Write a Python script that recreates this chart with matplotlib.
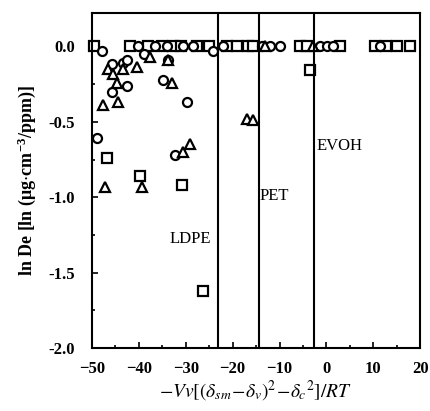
import matplotlib.pyplot as plt
from matplotlib.ticker import MultipleLocator

# squares
sq_x = [-49.6, -41.9, -38.0, -35.0, -32.7, -31.0, -27.5, -25.0, -21.2, -19.0,
        -16.8, -15.6, -5.6, -4.1, 2.9, 10.4, 12.7, 15.1, 17.9,
        -46.8, -39.8, -30.8, -26.3, -3.5]
sq_y = [0.0, 0.0, 0.0, 0.0, 0.0, 0.0, 0.0, 0.0, 0.0, 0.0,
        0.0, 0.0, 0.0, 0.0, 0.0, 0.0, 0.0, 0.0, 0.0,
        -0.74, -0.86, -0.92, -1.62, -0.16]

# circles
ci_x = [-47.9, -40.2, -39.0, -36.6, -34.0, -30.6, -28.4, -24.2, -22.0,
        -13.7, -12.0, -9.9, -1.3, 0.1, 1.4, 11.5,
        -33.8, -45.7, -43.4, -42.5, -42.5, -45.7, -34.8, -29.7, -48.9, -32.3]
ci_y = [-0.03, 0.0, -0.05, 0.0, 0.0, 0.0, 0.0, -0.03, 0.0,
        0.0, 0.0, 0.0, 0.0, 0.0, 0.0, 0.0,
        -0.09, -0.12, -0.11, -0.09, -0.26, -0.30, -0.22, -0.37, -0.61, -0.72]

# triangles
tr_x = [-37.6, -33.8, -46.6, -43.4, -45.5, -40.4, -44.7, -44.5, -47.7, -32.9,
        -30.6, -29.1, -47.2, -39.3, -16.9, -15.6, -2.8, -13.0]
tr_y = [-0.07, -0.09, -0.15, -0.15, -0.18, -0.14, -0.24, -0.37, -0.39, -0.24,
        -0.70, -0.65, -0.93, -0.93, -0.48, -0.49, 0.0, 0.0]

# polymer boundaries and labels
boundaries = [-23.1, -14.4, -2.6]
labels = ["LDPE", "PET", "EVOH"]
label_x = [-33.4, -14.2, -2.2]
label_y = [-1.28, -0.99, -0.66]

plt.rcParams['font.family'] = ['Liberation Serif', 'DejaVu Serif']
plt.rcParams['mathtext.fontset'] = 'stix'

fig = plt.figure(figsize=(4.3, 4.11), dpi=100)
ax = fig.add_axes([0.214, 0.153, 0.763, 0.815])

mk = dict(ls='none', mfc='white', mec='black', mew=1.6, ms=6.5, clip_on=False)
ax.plot(sq_x, sq_y, marker='s', **mk)
ax.plot(ci_x, ci_y, marker='o', **mk)
ax.plot(tr_x, tr_y, marker='^', **mk)

for b in boundaries:
    ax.axvline(b, color='black', lw=1.5)
for t, x, y in zip(labels, label_x, label_y):
    ax.text(x, y, t, fontsize=12, va='center', ha='left')

ax.set_xlim(-50, 20)
ax.set_ylim(-2.0, 0.22)
ax.xaxis.set_major_locator(MultipleLocator(10))
ax.xaxis.set_minor_locator(MultipleLocator(5))
ax.yaxis.set_major_locator(MultipleLocator(0.5))
ax.yaxis.set_minor_locator(MultipleLocator(0.25))
ax.yaxis.set_major_formatter(plt.FuncFormatter(lambda v, p: f"{v:.1f}"))
ax.tick_params(direction='in', which='both', labelsize=12, width=1.2)
ax.tick_params(which='major', length=4)
ax.tick_params(axis='y', pad=12)
ax.tick_params(axis='x', pad=9)
ax.tick_params(which='minor', length=2.5)
for lab in ax.get_xticklabels() + ax.get_yticklabels():
    lab.set_fontweight('bold')
for s in ax.spines.values():
    s.set_linewidth(1.5)

ax.set_ylabel(r"ln De [ln ($\mathregular{\mu}$g$\cdot$cm$^{\mathregular{-3}}$/ppm)]",
              fontsize=13, fontweight='bold', labelpad=8)
ax.set_xlabel(r"$-Vv[(\delta_{sm}\!-\!\delta_v)^2\!-\!\delta_c{}^2]/RT$",
              fontsize=14, labelpad=2)

fig.savefig("out.png", dpi=100)
